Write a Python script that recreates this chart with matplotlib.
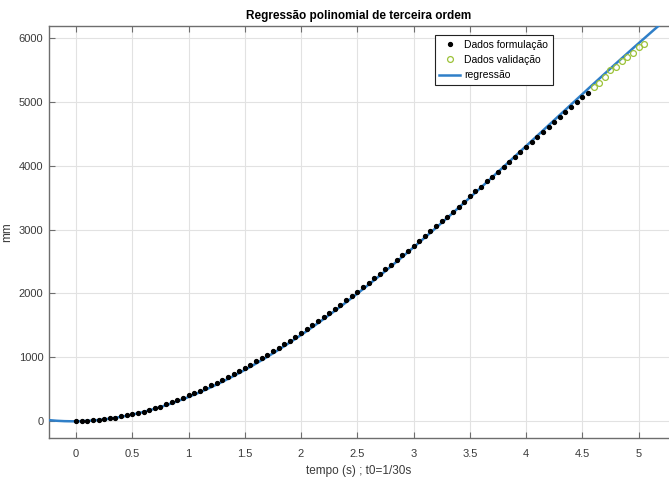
import numpy as np
import matplotlib
matplotlib.use("Agg")
import matplotlib.pyplot as plt

# ---- data ----
t_form = [round(0.05 * k, 2) for k in range(92)]  # 0.00 .. 4.55 s
y_form = [3, 4, 8, 12, 18, 30, 42, 52, 72, 90,
          104, 128, 150, 176, 200, 222, 268, 298, 330, 365,
          402, 438, 478, 518, 560, 600, 648, 690, 738, 785,
          835, 882, 935, 985, 1040, 1095, 1148, 1205, 1262, 1322,
          1382, 1440, 1505, 1568, 1630, 1695, 1760, 1825, 1892, 1958,
          2028, 2098, 2165, 2236, 2310, 2380, 2452, 2528, 2600, 2672,
          2748, 2822, 2900, 2975, 3050, 3128, 3205, 3282, 3360, 3438,
          3520, 3598, 3675, 3755, 3830, 3908, 3985, 4065, 4142, 4222,
          4300, 4378, 4458, 4535, 4612, 4690, 4768, 4845, 4920, 4995,
          5070, 5140]
t_valid = [4.60, 4.65, 4.70, 4.75, 4.80, 4.85, 4.90, 4.95, 5.00, 5.05]
y_valid = [5240, 5290, 5385, 5495, 5550, 5640, 5700, 5765, 5860, 5905]

# third-order regression curve (highest power first)
reg_coef = [-31.5, 390.0, 22.0, -3.0]

x_ticks = [0, 0.5, 1, 1.5, 2, 2.5, 3, 3.5, 4, 4.5, 5]
x_ticklabels = ["0", "0.5", "1", "1.5", "2", "2.5", "3", "3.5", "4", "4.5", "5"]
y_ticks = [0, 1000, 2000, 3000, 4000, 5000, 6000]

title = "Regressão polinomial de terceira ordem"
xlabel = "tempo (s) ; t0=1/30s"
ylabel = "mm"
leg_labels = ["Dados formulação", "Dados validação", "regressão"]

# ---- regression curve ----
t_line = np.linspace(-0.24, 5.27, 400)
y_line = np.polyval(reg_coef, t_line)

# ---- figure ----
plt.rcParams['font.family'] = ['Liberation Sans', 'DejaVu Sans']
fig = plt.figure(figsize=(6.69, 4.79), dpi=100)
ax = fig.add_axes([49 / 669, 41 / 479, 620 / 669, 412 / 479])

spine_col = '#6e6e6e'
text_col = '#3a3a3a'

ax.plot(t_form, y_form, linestyle='none', marker='o', ms=2.8,
        color='black', mec='black', label=leg_labels[0], zorder=5)
ax.plot(t_valid, y_valid, linestyle='none', marker='o', ms=4.2,
        mfc='none', mec='#9cc238', mew=0.9, label=leg_labels[1], zorder=5)
ax.plot(t_line, y_line, color='#2f7fc8', lw=1.8, label=leg_labels[2], zorder=4)

ax.set_xlim(-0.24, 5.27)
ax.set_ylim(-265, 6190)
ax.set_xticks(x_ticks)
ax.set_xticklabels(x_ticklabels)
ax.set_yticks(y_ticks)

ax.grid(True, color='#e2e2e2', lw=0.8)
ax.set_axisbelow(True)

for s in ['left', 'bottom', 'top']:
    ax.spines[s].set_color(spine_col)
    ax.spines[s].set_linewidth(1.0)
ax.spines['right'].set_visible(False)

ax.tick_params(direction='in', length=4, width=0.8, colors=spine_col,
               labelcolor=text_col, labelsize=8, top=True, right=False)
ax.tick_params(axis='x', pad=8)
ax.tick_params(axis='y', pad=4)

ax.set_title(title, fontsize=8.5, fontweight='bold', color='black', pad=5)
ax.set_xlabel(xlabel, fontsize=8.5, color=text_col, labelpad=4)
ax.set_ylabel(ylabel, fontsize=8.5, color=text_col)
ax.yaxis.set_label_coords(-0.058, 0.5)

leg = ax.legend(loc='upper left', bbox_to_anchor=(0.622, 0.978), fontsize=7.5,
                frameon=True, fancybox=False, framealpha=1, edgecolor='#222222',
                handlelength=2.0, handletextpad=0.4, borderpad=0.45,
                labelspacing=0.5, borderaxespad=0)
leg.get_frame().set_linewidth(0.8)

fig.savefig("out.png", dpi=100)
